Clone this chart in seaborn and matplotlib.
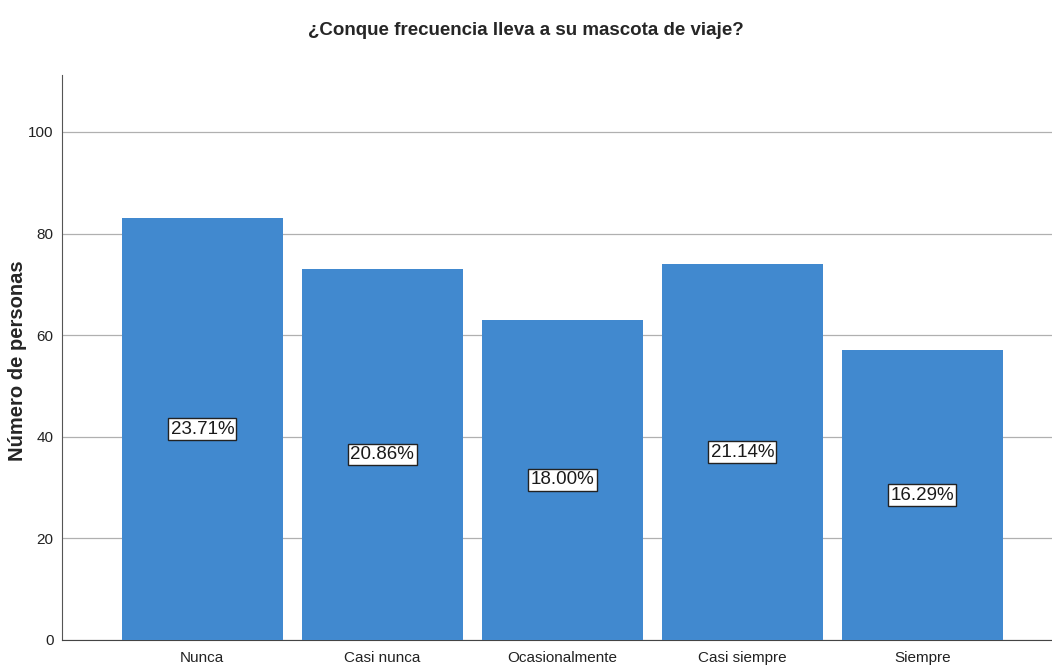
import matplotlib.pyplot as plt
import seaborn as sns
import pandas as pd

categorias = ['Nunca', 'Casi nunca', 'Ocasionalmente', 'Casi siempre', 'Siempre']
personas = [83, 73, 63, 74, 57]
porcentajes = ['23.71%', '20.86%', '18.00%', '21.14%', '16.29%']

df = pd.DataFrame({'categoria': categorias, 'n': personas})

sns.set_style('white')
plt.rcParams['font.family'] = ['Liberation Sans', 'DejaVu Sans']

fig = plt.figure(figsize=(10.52, 6.65), dpi=100)
ax = fig.add_axes([0.0589, 0.0376, 0.9411, 0.8496])

sns.barplot(data=df, x='categoria', y='n', color='#4189CF', saturation=1,
            width=0.894, ax=ax, zorder=3, edgecolor='none')

for i, (v, p) in enumerate(zip(personas, porcentajes)):
    ax.text(i, v / 2, p, ha='center', va='center', fontsize=13.5, color='#1a1a1a',
            bbox=dict(boxstyle='square,pad=0.12', fc='white', ec='#222222', lw=1),
            zorder=5)

ax.set_xlim(-0.78, 4.72)
ax.set_ylim(0, 111.2)
ax.set_yticks([0, 20, 40, 60, 80, 100])
ax.yaxis.grid(True, color='#b0b0b0', lw=0.9, zorder=0)
ax.set_axisbelow(True)
for s in ['top', 'right']:
    ax.spines[s].set_visible(False)
ax.spines['left'].set_color('#555555')
ax.spines['bottom'].set_color('#444444')
ax.tick_params(axis='both', length=0, labelsize=11, colors='#222222', pad=6)
ax.tick_params(axis='x', pad=8)
ax.set_xlabel('')
ax.set_ylabel('')
fig.text(18 / 1052, 1 - 361 / 665, 'Número de personas', rotation=90,
         ha='center', va='center', fontsize=14.5, fontweight='bold')
fig.suptitle('¿Conque frecuencia lleva a su mascota de viaje?', y=0.967,
             fontsize=13.5, fontweight='bold')

fig.savefig('out.png', dpi=100)
